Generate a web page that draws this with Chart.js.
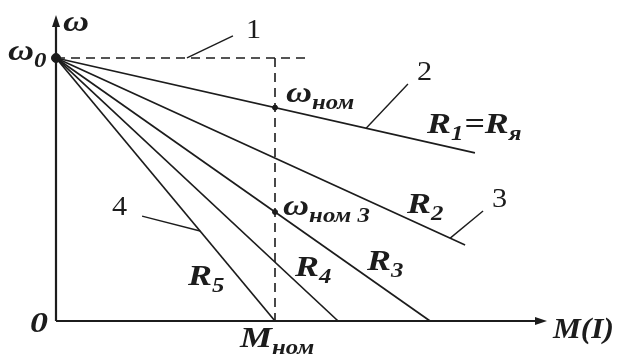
<!DOCTYPE html>
<html>
<head>
<meta charset="utf-8">
<script src="https://cdn.jsdelivr.net/npm/chart.js@4/dist/chart.umd.min.js"></script>
<style>
  html, body { margin: 0; padding: 0; background: #ffffff; }
  canvas { display: block; }
</style>
</head>
<body>
<canvas id="chart" width="618" height="363"></canvas>
<script>
// Mechanical characteristics ω(M) of a DC motor for several armature resistances.
// Units: torque in M_nom, speed in ω0.
const omega0 = 1;
const torqueNom = 1;
const resistanceNames = ['R1', 'R2', 'R3', 'R4', 'R5'];
// end point of each characteristic (torque, speed)
const endTorque = [1.913, 1.868, 1.708, 1.288, 1.0];
const endSpeed  = [0.639, 0.289, 0, 0, 0];
// extent of the axes and the dashed guide
const axisTorqueMax = 2.242;
const axisSpeedMax = 1.163;
const guideTorqueMax = 1.146;

// speed of characteristic i at torque m
function speedAt(i, m) {
  return omega0 - (omega0 - endSpeed[i]) * m / endTorque[i];
}
const omegaNom = speedAt(0, torqueNom);
const omegaNom3 = speedAt(2, torqueNom);

const ink = '#1c1c1c';

const datasets = [];
resistanceNames.forEach((name, i) => {
  datasets.push({
    label: name,
    data: [{ x: 0, y: omega0 }, { x: endTorque[i], y: endSpeed[i] }],
    showLine: true, borderColor: ink, borderWidth: 1.7, pointRadius: 0, clip: false
  });
});
// dashed guides: ideal no-load speed and nominal torque
datasets.push({
  label: 'ω0',
  data: [{ x: 0, y: omega0 }, { x: guideTorqueMax, y: omega0 }],
  showLine: true, borderColor: ink, borderWidth: 1.6, borderDash: [9, 6], pointRadius: 0, clip: false
});
datasets.push({
  label: 'Mном',
  data: [{ x: torqueNom, y: omega0 }, { x: torqueNom, y: 0 }],
  showLine: true, borderColor: ink, borderWidth: 1.6, borderDash: [9, 6], pointRadius: 0, clip: false
});
// axes
datasets.push({
  label: 'M(I)',
  data: [{ x: 0, y: 0 }, { x: axisTorqueMax - 0.03, y: 0 }],
  showLine: true, borderColor: ink, borderWidth: 2.2, pointRadius: 0, clip: false
});
datasets.push({
  label: 'ω',
  data: [{ x: 0, y: 0 }, { x: 0, y: axisSpeedMax - 0.03 }],
  showLine: true, borderColor: ink, borderWidth: 2.2, pointRadius: 0, clip: false
});
// operating points
datasets.push({
  label: 'points',
  data: [{ x: 0, y: omega0 }, { x: torqueNom, y: omegaNom }, { x: torqueNom, y: omegaNom3 }],
  showLine: false, backgroundColor: ink, borderColor: ink,
  pointRadius: [4.5, 2.5, 2.5], clip: false
});

// callout lines from the curve numbers
const leaders = [
  [[0.808, 1.084], [0.598, 1.0]],
  [[1.607, 0.901], [1.416, 0.733]],
  [[1.950, 0.418], [1.800, 0.315]],
  [[0.393, 0.399], [0.658, 0.342]]
];

const serif = '"Liberation Serif", "DejaVu Serif", serif';
const bigFont = 'bold italic 29px ' + serif;
const subFont = 'bold italic 20px ' + serif;
const numFont = '27px ' + serif;
const stretch = 1.24;   // letters are drawn wide
const numStretch = 1.12;

// text labels: anchor (left, baseline) in data units; parts with subscript flags
const labels = [
  { at: [0.032, 1.103], parts: [['ω']] },
  { at: [-0.219, 0.994], parts: [['ω'], ['0', 1]] },
  { at: [0.868, 1.076], parts: [['1']], font: numFont },
  { at: [1.648, 0.916], parts: [['2']], font: numFont },
  { at: [1.694, 0.715], parts: [['R'], ['1', 1], ['=R'], ['я', 1]] },
  { at: [1.050, 0.833], parts: [['ω'], ['ном', 1]] },
  { at: [1.991, 0.433], parts: [['3']], font: numFont },
  { at: [1.603, 0.411], parts: [['R'], ['2', 1]] },
  { at: [1.037, 0.403], parts: [['ω'], ['ном 3', 1]] },
  { at: [1.420, 0.194], parts: [['R'], ['3', 1]] },
  { at: [1.091, 0.171], parts: [['R'], ['4', 1]] },
  { at: [0.603, 0.137], parts: [['R'], ['5', 1]] },
  { at: [0.256, 0.403], parts: [['4']], font: numFont },
  { at: [-0.119, -0.042], parts: [['0']] },
  { at: [0.840, -0.099], parts: [['M'], ['ном', 1]] },
  { at: [2.269, -0.065], parts: [['M(I)']], stretch: 1.08 }
];

const decorations = {
  id: 'decorations',
  afterDatasetsDraw(chart) {
    const ctx = chart.ctx;
    const sx = chart.scales.x, sy = chart.scales.y;
    const px = v => sx.getPixelForValue(v);
    const py = v => sy.getPixelForValue(v);
    ctx.save();
    ctx.strokeStyle = ink;
    ctx.fillStyle = ink;
    // arrow heads
    const ox = px(0), oy = py(0);
    const tx = px(axisTorqueMax), ty = py(axisSpeedMax);
    ctx.beginPath();
    ctx.moveTo(tx, oy); ctx.lineTo(tx - 12, oy - 4); ctx.lineTo(tx - 12, oy + 4); ctx.closePath(); ctx.fill();
    ctx.beginPath();
    ctx.moveTo(ox, ty); ctx.lineTo(ox - 4, ty + 12); ctx.lineTo(ox + 4, ty + 12); ctx.closePath(); ctx.fill();
    // leaders
    ctx.lineWidth = 1.4;
    leaders.forEach(([a, b]) => {
      ctx.beginPath();
      ctx.moveTo(px(a[0]), py(a[1]));
      ctx.lineTo(px(b[0]), py(b[1]));
      ctx.stroke();
    });
    // labels
    ctx.textBaseline = 'alphabetic';
    ctx.textAlign = 'left';
    labels.forEach(l => {
      let x = px(l.at[0]);
      const y = py(l.at[1]);
      const k = l.stretch || (l.font ? numStretch : stretch);
      l.parts.forEach(([t, sub]) => {
        ctx.font = sub ? subFont : (l.font || bigFont);
        ctx.save();
        ctx.translate(x, sub ? y + 7 : y);
        ctx.scale(k, 1);
        ctx.fillText(t, 0, 0);
        ctx.restore();
        x += ctx.measureText(t).width * k + (sub ? 1 : 0);
      });
    });
    ctx.restore();
  }
};

new Chart(document.getElementById('chart'), {
  type: 'scatter',
  data: { datasets },
  options: {
    responsive: false,
    devicePixelRatio: 1,
    animation: false,
    layout: { padding: { left: 56, right: 58.3, top: 15.9, bottom: 42 } },
    plugins: { legend: { display: false }, tooltip: { enabled: false } },
    scales: {
      x: { type: 'linear', min: 0, max: 2.3, display: false },
      y: { type: 'linear', min: 0, max: 1.16, display: false }
    }
  },
  plugins: [decorations]
});
</script>
</body>
</html>
